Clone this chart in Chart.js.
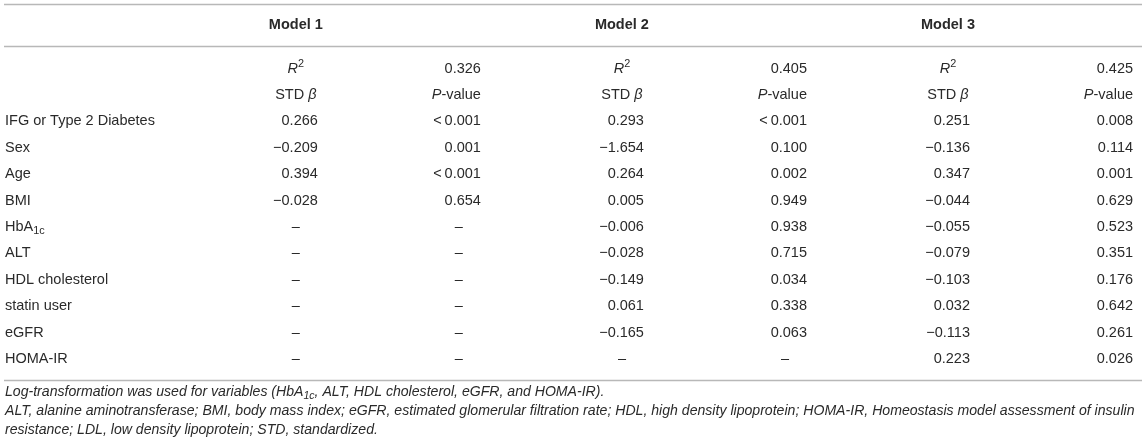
<!DOCTYPE html>
<html>
<head>
<meta charset="utf-8">
<script src="https://cdn.jsdelivr.net/npm/chart.js@4"></script>
<style>
  html, body { margin: 0; padding: 0; background: #fff; }
  #wrap { width: 1146px; height: 448px; position: relative; }
</style>
</head>
<body>
<div id="wrap"><canvas id="tableChart"></canvas></div>
<script>
// table data
const models = ['Model 1', 'Model 2', 'Model 3'];
const rSquared = [0.326, 0.405, 0.425];
const variables = ['IFG or Type 2 Diabetes', 'Sex', 'Age', 'BMI', 'HbA1c', 'ALT',
  'HDL cholesterol', 'statin user', 'eGFR', 'HOMA-IR'];
const model1Beta = [0.266, -0.209, 0.394, -0.028, null, null, null, null, null, null];
const model1P = ['<0.001', '0.001', '<0.001', '0.654', null, null, null, null, null, null];
const model2Beta = [0.293, -1.654, 0.264, 0.005, -0.006, -0.028, -0.149, 0.061, -0.165, null];
const model2P = ['<0.001', '0.100', '0.002', '0.949', '0.938', '0.715', '0.034', '0.338', '0.063', null];
const model3Beta = [0.251, -0.136, 0.347, -0.044, -0.055, -0.079, -0.103, 0.032, -0.113, 0.223];
const model3P = ['0.008', '0.114', '0.001', '0.629', '0.523', '0.351', '0.176', '0.642', '0.261', '0.026'];
const footnotes = [
  [{t: 'Log-transformation was used for variables (HbA'}, {t: '1c', sub: true}, {t: ', ALT, HDL cholesterol, eGFR, and HOMA-IR).'}],
  [{t: 'ALT, alanine aminotransferase; BMI, body mass index; eGFR, estimated glomerular filtration rate; HDL, high density lipoprotein; HOMA-IR, Homeostasis model assessment of insulin'}],
  [{t: 'resistance; LDL, low density lipoprotein; STD, standardized.'}]
];

const betas = [model1Beta, model2Beta, model3Beta];
const pvals = [model1P, model2P, model3P];

const TEXT = '#2a2a2a';
const FONT = '"Liberation Sans", Arial, sans-serif';
const SIZE = 14.5;

// row layout on the y scale (row index units)
const headerRow = -1.67;
const ruleRows = [-2.45, -0.87, 11.8];

function fmtBeta(v) {
  if (v === null) return null;
  return (v < 0 ? '\u2212' : '') + Math.abs(v).toFixed(3);
}
function fmtP(s) {
  if (s === null) return null;
  return s.replace('<', '<\u2009');
}

// build cells: x = column index (0..5), y = row index
const cells = [];
models.forEach((m, i) => {
  const cs = i * 2, cp = i * 2 + 1;
  cells.push({x: cs, y: headerRow, parts: [{t: m, bold: true}], align: 'center'});
  cells.push({x: cs, y: 0, parts: [{t: 'R', italic: true}, {t: '2', sup: true}], align: 'center'});
  cells.push({x: cp, y: 0, parts: [{t: rSquared[i].toFixed(3)}], align: 'right'});
  cells.push({x: cs, y: 1, parts: [{t: 'STD '}, {t: '\u03b2', italic: true}], align: 'center'});
  cells.push({x: cp, y: 1, parts: [{t: 'P', italic: true}, {t: '-value'}], align: 'right'});
  variables.forEach((v, r) => {
    const b = fmtBeta(betas[i][r]);
    const p = fmtP(pvals[i][r]);
    cells.push(b === null ? {x: cs, y: r + 2, parts: [{t: '\u2013'}], align: 'center'}
                          : {x: cs, y: r + 2, parts: [{t: b}], align: 'right'});
    cells.push(p === null ? {x: cp, y: r + 2, parts: [{t: '\u2013'}], align: 'center'}
                          : {x: cp, y: r + 2, parts: [{t: p}], align: 'right'});
  });
});
const labelCells = variables.map((v, r) => {
  const parts = v === 'HbA1c' ? [{t: 'HbA'}, {t: '1c', sub: true}] : [{t: v}];
  return {x: -1.79, y: r + 2, parts: parts, align: 'left'};
});

function fontFor(p, size, italicAll) {
  const s = (p.sub || p.sup) ? size * 0.75 : size;
  return ((p.italic || italicAll) ? 'italic ' : '') + (p.bold ? 'bold ' : '') + s + 'px ' + FONT;
}

function drawRich(ctx, parts, x, y, align, size, italicAll) {
  let w = 0;
  parts.forEach(p => { ctx.font = fontFor(p, size, italicAll); p.w = ctx.measureText(p.t).width; w += p.w; });
  let cx = align === 'center' ? x - w / 2 : align === 'right' ? x - w : x;
  ctx.textAlign = 'left';
  ctx.textBaseline = 'middle';
  parts.forEach(p => {
    ctx.font = fontFor(p, size, italicAll);
    const dy = p.sub ? size * 0.3 : p.sup ? -size * 0.3 : 0;
    ctx.fillText(p.t, cx, y + dy);
    cx += p.w;
  });
}

const tablePlugin = {
  id: 'tablePlugin',
  afterDatasetsDraw(chart) {
    const ctx = chart.ctx;
    const area = chart.chartArea;
    const yScale = chart.scales.y;
    ctx.save();
    // rules
    ctx.strokeStyle = '#b8b8b8';
    ctx.lineWidth = 1.6;
    ruleRows.forEach(r => {
      const py = Math.round(yScale.getPixelForValue(r)) + 0.5;
      ctx.beginPath();
      ctx.moveTo(area.left, py);
      ctx.lineTo(area.right, py);
      ctx.stroke();
    });
    ctx.fillStyle = TEXT;
    chart.data.datasets.forEach((ds, di) => {
      const meta = chart.getDatasetMeta(di);
      meta.data.forEach((el, i) => {
        const cell = ds.data[i];
        const off = cell.align === 'right' ? 22 : cell.align === 'left' ? 1 : 0;
        drawRich(ctx, cell.parts, el.x + off, el.y, cell.align, SIZE, false);
      });
    });
    // footnotes under the bottom rule
    footnotes.forEach((line, i) => {
      drawRich(ctx, line, area.left + 1, area.bottom + 12 + i * 19, 'left', 14.1, true);
    });
    ctx.restore();
  }
};

const ctx = document.getElementById('tableChart').getContext('2d');
new Chart(ctx, {
  type: 'scatter',
  data: {
    datasets: [
      {label: 'cells', data: cells, pointRadius: 0},
      {label: 'labels', data: labelCells, pointRadius: 0}
    ]
  },
  options: {
    responsive: true,
    maintainAspectRatio: false,
    animation: false,
    layout: {padding: {top: 4, left: 4, right: 4, bottom: 68}},
    plugins: {legend: {display: false}, tooltip: {enabled: false}},
    scales: {
      x: {type: 'linear', display: false, min: -1.79, max: 5.19},
      y: {type: 'linear', display: false, reverse: true, min: -2.45, max: 11.8}
    }
  },
  plugins: [tablePlugin]
});
</script>
</body>
</html>
